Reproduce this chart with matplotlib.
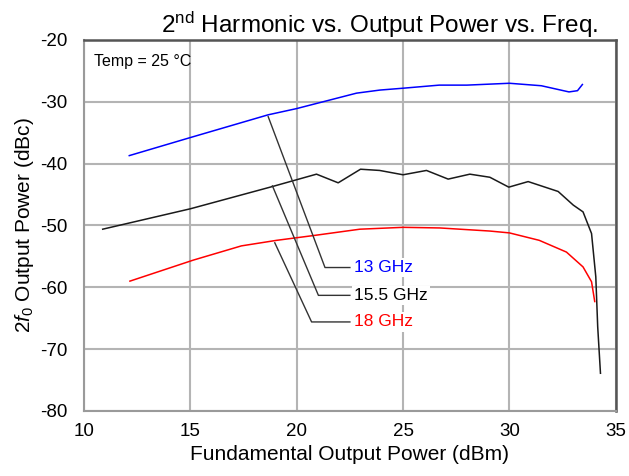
import numpy as np
import matplotlib
matplotlib.use("Agg")
import matplotlib.pyplot as plt

plt.rcParams['font.family'] = ['Liberation Sans', 'DejaVu Sans']
plt.rcParams['mathtext.fontset'] = 'custom'
plt.rcParams['mathtext.rm'] = 'Liberation Sans'
plt.rcParams['mathtext.it'] = 'Liberation Sans:italic'
plt.rcParams['axes.unicode_minus'] = False

# 13 GHz (blue)
x_13 = [12.13, 14.98, 18.66, 19.99, 22.81, 23.91, 25.0, 26.7, 28.0, 30.0, 31.5, 32.8, 33.2, 33.43]
y_13 = [-38.7, -35.8, -32.1, -31.1, -28.6, -28.1, -27.8, -27.3, -27.3, -27.0, -27.4, -28.4, -28.2, -27.2]

# 15.5 GHz (black)
x_155 = [10.88, 15.0, 18.86, 20.93, 21.95, 23.0, 23.9, 25.0, 26.1, 27.12, 28.14, 29.08, 29.97,
         30.88, 32.29, 33.0, 33.46, 33.86, 34.06, 34.15, 34.28]
y_155 = [-50.6, -47.3, -43.7, -41.7, -43.1, -40.9, -41.1, -41.8, -41.1, -42.5, -41.7, -42.2, -43.8,
         -42.9, -44.5, -46.7, -47.8, -51.3, -58.3, -66.4, -73.9]

# 18 GHz (red)
x_18 = [12.16, 15.14, 17.4, 19.06, 20.85, 22.97, 25.0, 26.73, 29.08, 30.0, 31.4, 32.68, 33.46, 33.86, 34.01]
y_18 = [-59.0, -55.6, -53.3, -52.4, -51.6, -50.6, -50.3, -50.4, -50.9, -51.2, -52.4, -54.3, -56.7, -59.1, -62.3]

# annotation leader lines: (curve point, bend point, label point)
labels = ['13 GHz', '15.5 GHz', '18 GHz']
label_colors = ['#0000ff', '#000000', '#ff0000']
leader_start = [(18.66, -32.4), (18.86, -43.6), (18.97, -52.8)]
leader_bend = [(21.33, -56.8), (21.02, -61.3), (20.7, -65.6)]
label_x = 22.5

fig = plt.figure(figsize=(6.29, 4.76), dpi=100)
ax = fig.add_axes([0.1335, 0.1366, 0.8455, 0.7794])

ax.set_xlim(10, 35)
ax.set_ylim(-80, -20)
ax.set_xticks([10, 15, 20, 25, 30, 35])
ax.set_yticks([-80, -70, -60, -50, -40, -30, -20])
ax.grid(True, color='#b4b4b4', linewidth=1.5)
ax.set_axisbelow(True)
ax.tick_params(length=0, labelsize=13.5)
ax.tick_params(axis='y', pad=12)
ax.tick_params(axis='x', pad=9)

for s in ['left', 'bottom']:
    ax.spines[s].set_color('#9a9a9a')
    ax.spines[s].set_linewidth(1.5)
for s in ['top', 'right']:
    ax.spines[s].set_color('#555555')
    ax.spines[s].set_linewidth(1.8)

ax.plot(x_13, y_13, color='#0000ff', linewidth=1.1)
ax.plot(x_155, y_155, color='#1a1a1a', linewidth=1.1)
ax.plot(x_18, y_18, color='#ff0000', linewidth=1.1)

for lab, col, p0, p1 in zip(labels, label_colors, leader_start, leader_bend):
    ax.plot([p0[0], p1[0], label_x], [p0[1], p1[1], p1[1]], color='#333333', linewidth=1.0)
    ax.text(label_x + 0.2, p1[1], lab, color=col, fontsize=12.5, va='center', ha='left',
            bbox=dict(facecolor='white', edgecolor='none', pad=1.5))

ax.text(10.45, -23.4, 'Temp = 25 \u00b0C', fontsize=11.5, va='center', ha='left')

ax.set_xlabel('Fundamental Output Power (dBm)', fontsize=15, labelpad=3)
ax.set_ylabel(r'2$f_0$ Output Power (dBc)', fontsize=15, labelpad=3)
ax.set_title(r'2$^{\mathrm{nd}}$ Harmonic vs. Output Power vs. Freq.', fontsize=17.5, pad=5, x=0.556)

fig.savefig('out.png', dpi=100)
